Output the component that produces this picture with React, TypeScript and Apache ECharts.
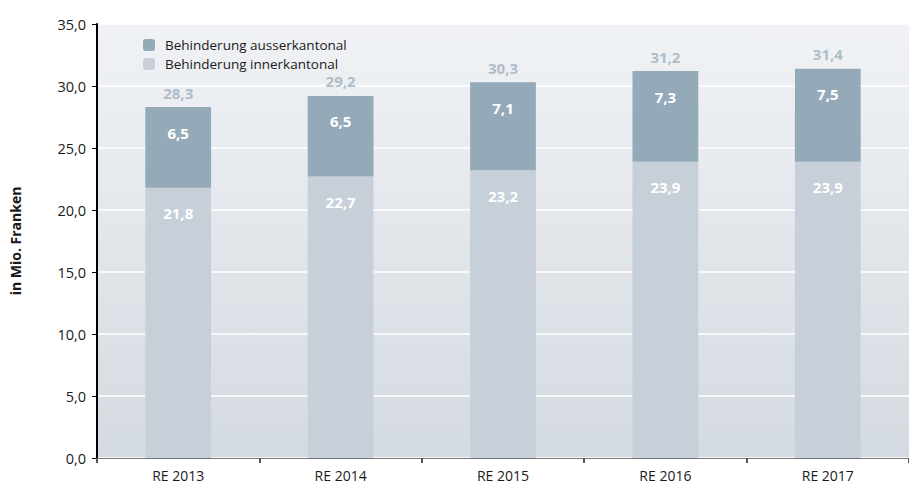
import React, { useEffect, useRef } from "react";
import * as echarts from "echarts";

const categories = ["RE 2013", "RE 2014", "RE 2015", "RE 2016", "RE 2017"];
const innerkantonal = [21.8, 22.7, 23.2, 23.9, 23.9];
const ausserkantonal = [6.5, 6.5, 7.1, 7.3, 7.5];
const totals = [28.3, 29.2, 30.3, 31.2, 31.4];

const FONT = "'Open Sans', 'Noto Sans', sans-serif";
const fmt = (v: number) => v.toFixed(1).replace(".", ",");

export default function App() {
  const ref = useRef<HTMLDivElement>(null);
  useEffect(() => {
    const chart = echarts.init(ref.current!, null, { renderer: "svg" });
    const segLabel = {
      show: true,
      position: "insideTop",
      distance: 18,
      color: "#fff",
      fontWeight: "bold",
      fontSize: 15,
      fontFamily: FONT,
      formatter: (p: any) => fmt(p.value),
    };
    chart.setOption({
      animation: false,
      textStyle: { fontFamily: FONT },
      grid: {
        left: 94,
        right: 0,
        top: 24,
        bottom: 28,
        show: true,
        borderWidth: 0,
        backgroundColor: {
          type: "linear",
          x: 0,
          y: 0,
          x2: 0,
          y2: 1,
          colorStops: [
            { offset: 0, color: "#f0f2f5" },
            { offset: 1, color: "#d4dae1" },
          ],
        },
      },
      legend: {
        orient: "vertical",
        left: 138,
        top: 33,
        itemWidth: 12,
        itemHeight: 12,
        itemGap: 5,
        data: ["Behinderung ausserkantonal", "Behinderung innerkantonal"],
        textStyle: { fontFamily: FONT, fontSize: 13.5, color: "#1a1a1a", padding: [0, 0, 0, 5] },
      },
      xAxis: {
        type: "category",
        data: categories,
        axisLine: { lineStyle: { color: "#7a7a7a", width: 1 } },
        axisTick: { show: true, length: 5, lineStyle: { color: "#555", width: 2 } },
        axisLabel: { fontFamily: FONT, fontSize: 14, color: "#1a1a1a", margin: 10 },
      },
      yAxis: {
        type: "value",
        min: 0,
        max: 35,
        interval: 5,
        name: "in Mio. Franken",
        nameLocation: "middle",
        nameGap: 75,
        nameTextStyle: { fontFamily: FONT, fontSize: 14, fontWeight: "bold", color: "#1a1a1a" },
        axisLine: { show: true, lineStyle: { color: "#000", width: 2 } },
        axisTick: { show: true, length: 5, lineStyle: { color: "#000", width: 1 } },
        axisLabel: { fontFamily: FONT, fontSize: 14.5, color: "#1a1a1a", margin: 11, formatter: (v: number) => fmt(v) },
        splitLine: { show: true, lineStyle: { color: "#ffffff", width: 1.5 } },
      },
      series: [
        {
          name: "Behinderung innerkantonal",
          type: "bar",
          stack: "s",
          barWidth: "40.5%",
          data: innerkantonal,
          itemStyle: { color: "#c7cfd9" },
          label: segLabel,
        },
        {
          name: "Behinderung ausserkantonal",
          type: "bar",
          stack: "s",
          data: ausserkantonal,
          itemStyle: { color: "#95aab8" },
          label: segLabel,
        },
        {
          name: "total",
          type: "scatter",
          data: totals,
          symbolSize: 0,
          silent: true,
          label: {
            show: true,
            position: "top",
            distance: 7,
            color: "#9dafbd",
            fontWeight: "bold",
            fontSize: 15,
            fontFamily: FONT,
            formatter: (p: any) => fmt(p.value),
          },
        },
      ],
    });
    return () => chart.dispose();
  }, []);
  return (
    <div
      ref={ref}
      style={{ position: "absolute", left: 0, top: 0, width: 909, height: 486 }}
    />
  );
}
